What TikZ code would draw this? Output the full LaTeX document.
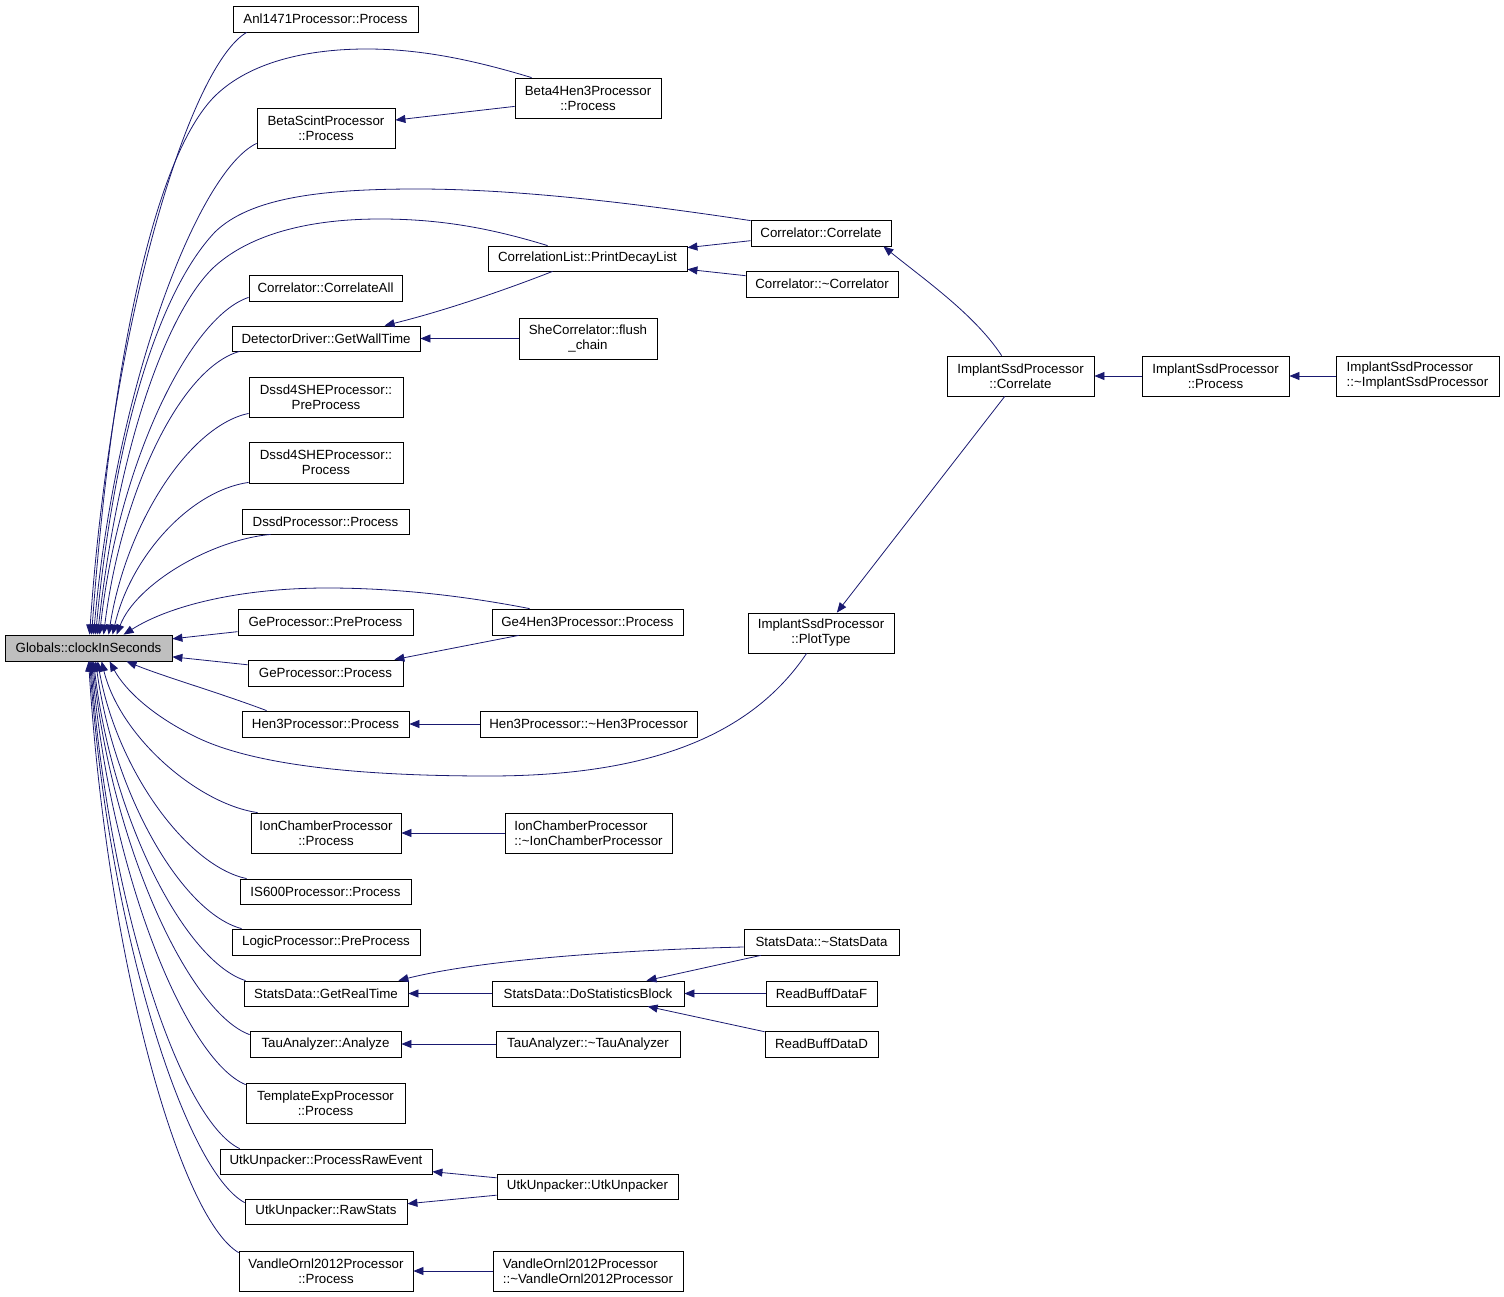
\documentclass[tikz,border=0pt]{standalone}
\usepackage{fontspec}
\setmainfont{Liberation Sans}
\usetikzlibrary{arrows.meta,calc}
\definecolor{edgeblue}{HTML}{191970}
\definecolor{focusgray}{HTML}{BFBFBF}
\tikzset{
  box/.style={draw=black, fill=white, line width=0.8pt, inner sep=0pt, align=center,
    font=\fontsize{13.3}{15}\selectfont},
  focus/.style={fill=focusgray},
  lbox/.style={align=left},
  edge/.style={draw=edgeblue, line width=0.8pt, -{Triangle[length=10pt,width=8pt]}},
}
\newcommand\dxnode[7][]{%
  \pgfmathsetmacro\dxcx{(#3+#5)/2}%
  \pgfmathsetmacro\dxcy{(#4+#6)/2}%
  \pgfmathsetmacro\dxw{#5-#3}%
  \pgfmathsetmacro\dxh{#6-#4}%
  \node[box,#1,minimum width=\dxw pt,minimum height=\dxh pt] (#2) at (\dxcx,\dxcy) {#7};}
\begin{document}
\begin{tikzpicture}[x=1pt,y=-1pt]
\useasboundingbox (0,0) rectangle (1504,1297);
% nodes
\dxnode[focus]{g}{5}{635}{172}{661}{Globals::clockInSeconds}
\dxnode{anl}{233}{6}{418}{32}{Anl1471Processor::Process}
\dxnode{b4h}{515}{78}{661}{118}{Beta4Hen3Processor\\::Process}
\dxnode{bsc}{257}{108}{395}{148}{BetaScintProcessor\\::Process}
\dxnode{corr}{751}{220}{891}{246}{Correlator::Correlate}
\dxnode{pdl}{488}{246}{687}{271}{CorrelationList::PrintDecayList}
\dxnode{dcorr}{746}{271}{898}{297}{Correlator::\textasciitilde Correlator}
\dxnode{call}{249}{275}{402}{301}{Correlator::CorrelateAll}
\dxnode{gwt}{232}{326}{420}{351}{DetectorDriver::GetWallTime}
\dxnode{she}{519}{318}{657}{359}{SheCorrelator::flush\\\_chain}
\dxnode{icorr}{947}{356}{1094}{396}{ImplantSsdProcessor\\::Correlate}
\dxnode{iproc}{1142}{356}{1289}{396}{ImplantSsdProcessor\\::Process}
\dxnode[lbox]{dimpl}{1336}{356}{1499}{396}{ImplantSsdProcessor\\::\textasciitilde ImplantSsdProcessor}
\dxnode{d4p}{249}{377}{403}{417}{Dssd4SHEProcessor::\\PreProcess}
\dxnode{d4r}{249}{442}{403}{483}{Dssd4SHEProcessor::\\Process}
\dxnode{dssd}{242}{509}{409}{534}{DssdProcessor::Process}
\dxnode{gepre}{238}{609}{413}{635}{GeProcessor::PreProcess}
\dxnode{g4h}{492}{609}{683}{635}{Ge4Hen3Processor::Process}
\dxnode{plot}{748}{613}{894}{653}{ImplantSsdProcessor\\::PlotType}
\dxnode{geproc}{248}{660}{403}{686}{GeProcessor::Process}
\dxnode{hen3}{242}{711}{409}{737}{Hen3Processor::Process}
\dxnode{dhen3}{480}{711}{697}{737}{Hen3Processor::\textasciitilde Hen3Processor}
\dxnode{ion}{251}{813}{401}{853}{IonChamberProcessor\\::Process}
\dxnode[lbox]{dion}{505}{813}{672}{853}{IonChamberProcessor\\::\textasciitilde IonChamberProcessor}
\dxnode{is6}{240}{879}{411}{904}{IS600Processor::Process}
\dxnode{logic}{232}{929}{420}{955}{LogicProcessor::PreProcess}
\dxnode{dsd}{744}{929}{899}{955}{StatsData::\textasciitilde StatsData}
\dxnode{grt}{244}{981}{408}{1006}{StatsData::GetRealTime}
\dxnode{dsb}{492}{981}{684}{1006}{StatsData::DoStatisticsBlock}
\dxnode{rbf}{766}{981}{877}{1006}{ReadBuffDataF}
\dxnode{tau}{250}{1031}{401}{1057}{TauAnalyzer::Analyze}
\dxnode{dtau}{496}{1031}{680}{1057}{TauAnalyzer::\textasciitilde TauAnalyzer}
\dxnode{rbd}{765}{1031}{878}{1057}{ReadBuffDataD}
\dxnode{tpl}{246}{1083}{405}{1123}{TemplateExpProcessor\\::Process}
\dxnode{pre}{220}{1149}{432}{1174}{UtkUnpacker::ProcessRawEvent}
\dxnode{utk}{497}{1174}{678}{1199}{UtkUnpacker::UtkUnpacker}
\dxnode{raw}{245}{1199}{407}{1224}{UtkUnpacker::RawStats}
\dxnode{van}{239}{1251}{413}{1291}{VandleOrnl2012Processor\\::Process}
\dxnode[lbox]{dvan}{493}{1251}{683}{1291}{VandleOrnl2012Processor\\::\textasciitilde VandleOrnl2012Processor}
% upper fan into Globals
\draw[edge] ($(anl.south west)+(14,0)$) .. controls (187,68) and (110,333) .. ($(g.north west)+(85,0)$);
\draw[edge] ($(b4h.north west)+(17,0)$) .. controls (480,62) and (425,49) .. (367,49)
   .. controls (300,49) and (245,65) .. (213,98) .. controls (150,165) and (110,380) .. ($(g.north west)+(87,0)$);
\draw[edge] ($(bsc.south west)+(0,-5)$) .. controls (197,172) and (115,389) .. ($(g.north west)+(89,0)$);
\draw[edge] ($(corr.north west)+(0,1)$) .. controls (640,204) and (520,189) .. (417,189)
   .. controls (320,189) and (250,198) .. (215,232) .. controls (160,290) and (115,430) .. ($(g.north west)+(91,0)$);
\draw[edge] ($(pdl.north west)+(60,0)$) .. controls (490,228) and (440,219) .. (380,219)
   .. controls (300,219) and (245,238) .. (213,268) .. controls (165,315) and (118,450) .. ($(g.north west)+(93,0)$);
\draw[edge] ($(call.south west)+(0,-4)$) .. controls (189,317) and (118,466) .. ($(g.north west)+(95,0)$);
\draw[edge] ($(gwt.south west)+(8,0)$) .. controls (180,368) and (121,493) .. ($(g.north west)+(99,0)$);
\draw[edge] ($(d4p.south west)+(0,-4)$) .. controls (189,426) and (126,524) .. ($(g.north west)+(104,0)$);
\draw[edge] ($(d4r.south west)+(0,-1)$) .. controls (189,491) and (130,558) .. ($(g.north west)+(108,0)$);
\draw[edge] ($(dssd.south west)+(29,0)$) .. controls (211,540) and (136,584) .. ($(g.north west)+(112,0)$);
\draw[edge] ($(g4h.north west)+(38,0)$) .. controls (470,597) and (400,588) .. (327,588)
   .. controls (245,588) and (172,604) .. ($(g.north west)+(119,0)$);
% side edges into Globals
\draw[edge] (gepre) -- (g);
\draw[edge] (geproc) -- (g);
% lower fan into Globals
\draw[edge] ($(hen3.north west)+(25,0)$) .. controls (220,693) and (162,676) .. ($(g.south west)+(122,0)$);
\draw[edge] ($(plot.south west)+(59,0)$) .. controls (755,730) and (660,776) .. (489,776)
   .. controls (330,776) and (240,760) .. (192,735) .. controls (152,715) and (125,690) .. ($(g.south west)+(105,0)$);
\draw[edge] ($(ion.north west)+(7,0)$) .. controls (198,804) and (120,737) .. ($(g.south west)+(97,0)$);
\draw[edge] ($(is6.north west)+(7,0)$) .. controls (187,866) and (117,770) .. ($(g.south west)+(93,0)$);
\draw[edge] ($(logic.north west)+(10,0)$) .. controls (182,913) and (114,795) .. ($(g.south west)+(91,0)$);
\draw[edge] ($(grt.north west)+(2,0)$) .. controls (186,962) and (112,821) .. ($(g.south west)+(89,0)$);
\draw[edge] ($(tau.north west)+(0,4)$) .. controls (190,1013) and (112,848) .. ($(g.south west)+(88,0)$);
\draw[edge] ($(tpl.north west)+(0,2)$) .. controls (186,1060) and (110,873) .. ($(g.south west)+(87,0)$);
\draw[edge] ($(pre.north west)+(20,0)$) .. controls (180,1120) and (109,905) .. ($(g.south west)+(86,0)$);
\draw[edge] ($(raw.north west)+(0,4)$) .. controls (185,1170) and (109,932) .. ($(g.south west)+(85,0)$);
\draw[edge] ($(van.north west)+(0,2)$) .. controls (179,1217) and (107,957) .. ($(g.south west)+(84,0)$);
% other edges
\draw[edge] (b4h) -- (bsc);
\draw[edge] (corr) -- (pdl);
\draw[edge] (dcorr) -- (pdl);
\draw[edge] ($(pdl.south west)+(65,0)$) .. controls (500,292) and (440,312) .. ($(gwt.north west)+(153,0)$);
\draw[edge] (she) -- (gwt);
\draw[edge] ($(icorr.north west)+(55,0)$) .. controls (975,315) and (925,280) .. ($(corr.south east)+(-8,0)$);
\draw[edge] (icorr) -- (plot);
\draw[edge] (iproc) -- (icorr);
\draw[edge] (dimpl) -- (iproc);
\draw[edge] (g4h) -- (geproc);
\draw[edge] (dhen3) -- (hen3);
\draw[edge] (dion) -- (ion);
\draw[edge] ($(dsd.west)+(0,5)$) .. controls (620,950) and (480,960) .. ($(grt.north east)+(-10,0)$);
\draw[edge] (dsd) -- (dsb);
\draw[edge] (rbf) -- (dsb);
\draw[edge] (rbd) -- (dsb);
\draw[edge] (dsb) -- (grt);
\draw[edge] (dtau) -- (tau);
\draw[edge] (utk) -- (pre);
\draw[edge] (utk) -- (raw);
\draw[edge] (dvan) -- (van);
\end{tikzpicture}
\end{document}
